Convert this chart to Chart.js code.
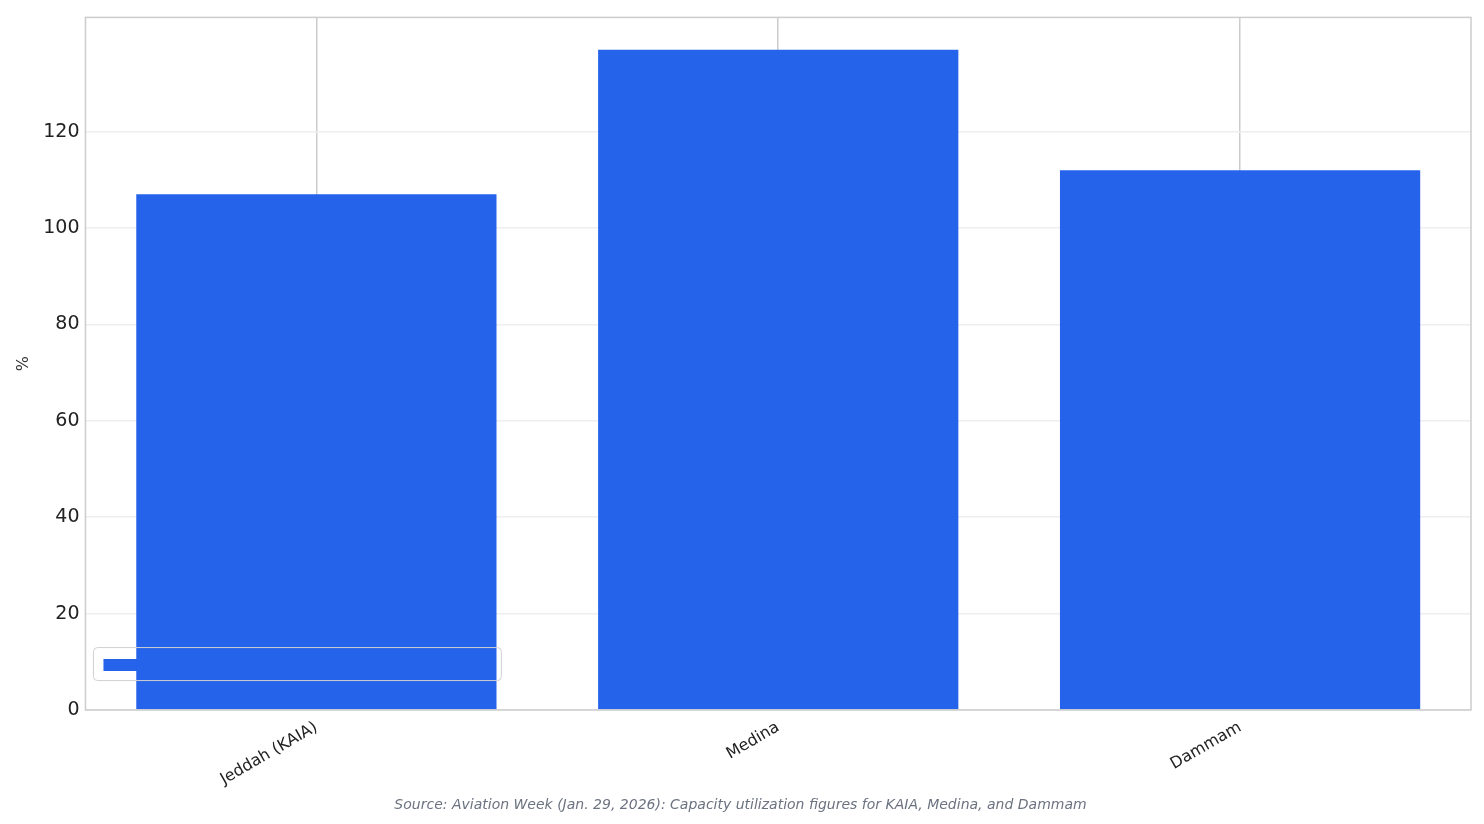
<!DOCTYPE html>
<html><head><meta charset="utf-8">
<script src="https://cdn.jsdelivr.net/npm/chart.js@4"></script>
<style>body{margin:0;background:#fff}#w{width:1484px;height:824px}</style>
</head><body><div id="w"><canvas id="c"></canvas></div>
<script>
const categories = ["Jeddah (KAIA)", "Medina", "Dammam"];
const utilization = [107, 137, 112];
const seriesLabel = "Utilization vs designed capacity (%)";
const sourceText = "Source: Aviation Week (Jan. 29, 2026): Capacity utilization figures for KAIA, Medina, and Dammam";

const frame = {
  id: 'frame',
  afterDraw(chart) {
    const {ctx, chartArea: a} = chart;
    ctx.save();
    ctx.strokeStyle = '#cccccc'; ctx.lineWidth = 1.5;
    ctx.strokeRect(a.left, a.top, a.right - a.left, a.bottom - a.top);
    const lg = chart.legend;
    if (lg && lg.legendHitBoxes && lg.legendHitBoxes.length) {
      const h = lg.legendHitBoxes[0];
      const x = h.left - 10, y = h.top - 8, w = h.width + 18, hh = h.height + 14;
      ctx.strokeStyle = '#d0d0d0'; ctx.lineWidth = 1;
      ctx.beginPath(); ctx.roundRect(x, y, w, hh, 4); ctx.stroke();
    }
    ctx.restore();
  }
};

new Chart(document.getElementById('c'), {
  type: 'bar',
  data: { labels: categories, datasets: [{ label: seriesLabel, data: utilization,
    backgroundColor: '#2563eb', barPercentage: 0.78, categoryPercentage: 1 }] },
  options: {
    responsive: true, maintainAspectRatio: false, animation: false,
    layout: { padding: { top: 14, right: 13, left: 10, bottom: 4 } },
    plugins: {
      legend: { position: 'chartArea', align: 'end',
        labels: { boxWidth: 40, boxHeight: 12, color: '#222', padding: 18,
          font: { family: 'DejaVu Sans', size: 19 } } },
      subtitle: { display: true, text: sourceText, position: 'bottom', color: '#6b7280',
        font: { family: 'DejaVu Sans', size: 14, style: 'italic' }, padding: { top: 0, bottom: 6 } }
    },
    scales: {
      x: { grid: { color: '#cccccc', lineWidth: 1.5, offset: false, drawTicks: false },
        border: { display: false },
        ticks: { color: '#222', minRotation: 30, maxRotation: 30, padding: 8,
          font: { family: 'DejaVu Sans', size: 16 } } },
      y: { min: 0, max: 143.7, grid: { color: '#eeeeee', lineWidth: 1.5, drawTicks: false },
        border: { display: false },
        afterBuildTicks: s => { s.ticks = s.ticks.filter(t => t.value % 20 === 0); },
        ticks: { stepSize: 20, color: '#222', padding: 6, font: { family: 'DejaVu Sans', size: 19 } },
        title: { display: true, text: '%', color: '#333', font: { family: 'DejaVu Sans', size: 16 } } }
    }
  },
  plugins: [frame]
});
</script></body></html>
